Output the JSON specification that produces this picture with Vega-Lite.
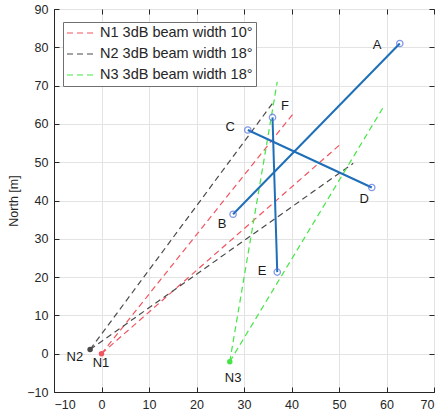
{
  "$schema": "https://vega.github.io/schema/vega-lite/v6.json",
  "width": 380,
  "height": 383,
  "autosize": "none",
  "padding": {"left": 54, "top": 9, "right": 6, "bottom": 25},
  "background": "white",
  "config": {
    "font": "Liberation Sans",
    "view": {"stroke": "#262626", "strokeWidth": 1},
    "axis": {
      "labelFont": "Liberation Sans",
      "labelFontSize": 12.5,
      "labelColor": "#262626",
      "gridColor": "#e3e3e3",
      "gridWidth": 1,
      "domainColor": "#262626",
      "tickColor": "#262626",
      "tickSize": -5,
      "titleFont": "Liberation Sans",
      "titleFontSize": 12.5,
      "titleFontWeight": "normal",
      "titleColor": "#262626"
    }
  },
  "datasets": {
    "targets": [
      {"name": "A", "seg": "AB", "ord": 0, "x": 62.8, "y": 81.0},
      {"name": "B", "seg": "AB", "ord": 1, "x": 27.7, "y": 36.4},
      {"name": "C", "seg": "CD", "ord": 0, "x": 30.8, "y": 58.4},
      {"name": "D", "seg": "CD", "ord": 1, "x": 56.9, "y": 43.4},
      {"name": "F", "seg": "FE", "ord": 0, "x": 36.0, "y": 61.7},
      {"name": "E", "seg": "FE", "ord": 1, "x": 37.0, "y": 21.3}
    ],
    "beams": [
      {"series": "N1 3dB beam width 10°", "line": "N1a", "ord": 0, "x": 0, "y": 0},
      {"series": "N1 3dB beam width 10°", "line": "N1a", "ord": 1, "x": 40.5, "y": 62.9},
      {"series": "N1 3dB beam width 10°", "line": "N1b", "ord": 0, "x": 0, "y": 0},
      {"series": "N1 3dB beam width 10°", "line": "N1b", "ord": 1, "x": 50.4, "y": 54.8},
      {"series": "N2 3dB beam width 18°", "line": "N2a", "ord": 0, "x": -2.4, "y": 1.1},
      {"series": "N2 3dB beam width 18°", "line": "N2a", "ord": 1, "x": 36.5, "y": 66.2},
      {"series": "N2 3dB beam width 18°", "line": "N2b", "ord": 0, "x": -2.4, "y": 1.1},
      {"series": "N2 3dB beam width 18°", "line": "N2b", "ord": 1, "x": 53.0, "y": 49.7},
      {"series": "N3 3dB beam width 18°", "line": "N3a", "ord": 0, "x": 27.0, "y": -2.1},
      {"series": "N3 3dB beam width 18°", "line": "N3a", "ord": 1, "x": 37.0, "y": 71.0},
      {"series": "N3 3dB beam width 18°", "line": "N3b", "ord": 0, "x": 27.0, "y": -2.1},
      {"series": "N3 3dB beam width 18°", "line": "N3b", "ord": 1, "x": 59.2, "y": 64.1}
    ],
    "nodes": [
      {"name": "N1", "series": "N1 3dB beam width 10°", "x": 0, "y": 0},
      {"name": "N2", "series": "N2 3dB beam width 18°", "x": -2.4, "y": 1.1},
      {"name": "N3", "series": "N3 3dB beam width 18°", "x": 27.0, "y": -2.1}
    ],
    "labels": [
      {"text": "A", "x": 58.0, "y": 80.6},
      {"text": "B", "x": 25.4, "y": 33.9},
      {"text": "C", "x": 27.1, "y": 59.2},
      {"text": "D", "x": 55.3, "y": 40.4},
      {"text": "E", "x": 33.8, "y": 21.6},
      {"text": "F", "x": 38.6, "y": 64.7},
      {"text": "N1", "x": -0.1, "y": -2.4},
      {"text": "N2", "x": -5.6, "y": -0.9},
      {"text": "N3", "x": 27.7, "y": -6.3}
    ]
  },
  "resolve": {"axis": {"x": "independent", "y": "independent"}},
  "layer": [
    {
      "data": {"name": "beams"},
      "mark": {"type": "line", "strokeWidth": 1.2, "strokeDash": [6, 4]},
      "encoding": {
        "x": {"field": "x", "type": "quantitative", "scale": {"domain": [-10, 70], "nice": false, "zero": false},
              "axis": {"values": [-10, 0, 10, 20, 30, 40, 50, 60, 70], "title": null, "labelPadding": 11, "grid": true}},
        "y": {"field": "y", "type": "quantitative", "scale": {"domain": [-10, 90], "nice": false, "zero": false},
              "axis": {"values": [-10, 0, 10, 20, 30, 40, 50, 60, 70, 80, 90], "title": "North [m]", "labelPadding": 11, "titlePadding": 6, "grid": true}},
        "detail": {"field": "line"},
        "order": {"field": "ord"},
        "color": {
          "field": "series", "type": "nominal",
          "scale": {"domain": ["N1 3dB beam width 10°", "N2 3dB beam width 18°", "N3 3dB beam width 18°"], "range": ["#f2545f", "#4a4a4a", "#44e644"]},
          "legend": {
            "title": null, "orient": "none", "legendX": 9, "legendY": 13,
            "symbolType": "stroke", "symbolDash": [6, 4], "symbolStrokeWidth": 1.2, "symbolSize": 900,
            "clipHeight": 16,
            "labelFontSize": 14.5, "labelColor": "#262626", "labelFont": "Liberation Sans",
            "fillColor": "white", "strokeColor": "#707070", "padding": 3, "rowPadding": 5, "labelOffset": 2
          }
        }
      }
    },
    {
      "data": {"name": "targets"},
      "mark": {"type": "line", "strokeWidth": 2, "color": "#1f6fb8"},
      "encoding": {
        "x": {"field": "x", "type": "quantitative", "axis": {"orient": "top", "values": [-10, 0, 10, 20, 30, 40, 50, 60, 70], "labels": false, "grid": false, "domain": false, "title": null}},
        "y": {"field": "y", "type": "quantitative", "axis": {"orient": "right", "values": [-10, 0, 10, 20, 30, 40, 50, 60, 70, 80, 90], "labels": false, "grid": false, "domain": false, "title": null}},
        "detail": {"field": "seg"},
        "order": {"field": "ord"}
      }
    },
    {
      "data": {"name": "targets"},
      "mark": {"type": "point", "shape": "circle", "size": 40, "filled": false, "strokeWidth": 1.3, "color": "#4f6ee0"},
      "encoding": {
        "x": {"field": "x", "type": "quantitative", "axis": null},
        "y": {"field": "y", "type": "quantitative", "axis": null}
      }
    },
    {
      "data": {"name": "nodes"},
      "mark": {"type": "point", "shape": "circle", "size": 30, "filled": true, "opacity": 1},
      "encoding": {
        "x": {"field": "x", "type": "quantitative", "axis": null},
        "y": {"field": "y", "type": "quantitative", "axis": null},
        "color": {"field": "series", "type": "nominal", "legend": null}
      }
    },
    {
      "data": {"name": "labels"},
      "mark": {"type": "text", "fontSize": 13, "color": "#1a1a1a", "align": "center", "baseline": "middle", "font": "Liberation Sans"},
      "encoding": {
        "x": {"field": "x", "type": "quantitative", "axis": null},
        "y": {"field": "y", "type": "quantitative", "axis": null},
        "text": {"field": "text"}
      }
    }
  ]
}
